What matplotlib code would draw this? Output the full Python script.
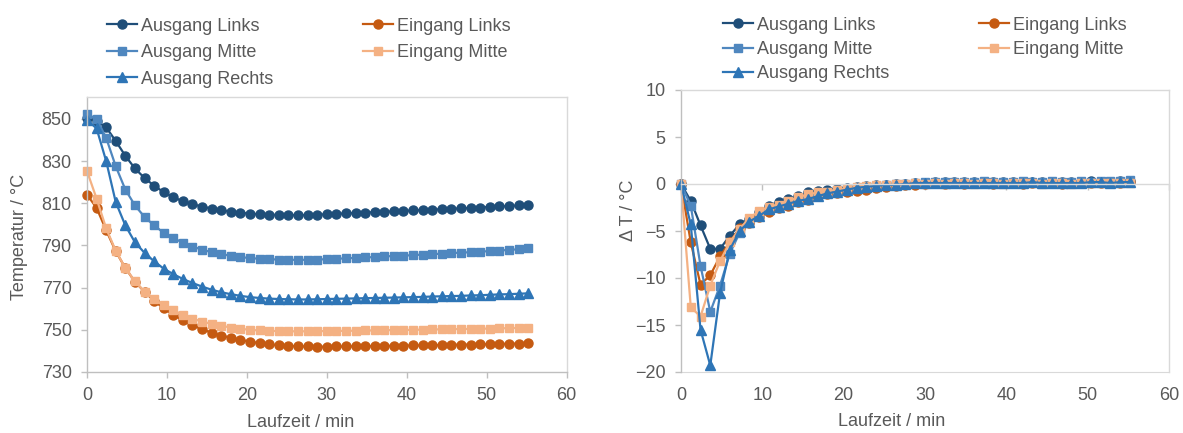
import matplotlib
matplotlib.use("Agg")
import matplotlib.pyplot as plt

plt.rcParams['font.family'] = ['Liberation Sans', 'DejaVu Sans']
plt.rcParams['font.size'] = 13
plt.rcParams['text.color'] = '#595959'
plt.rcParams['axes.labelcolor'] = '#595959'
plt.rcParams['xtick.color'] = '#bfbfbf'
plt.rcParams['ytick.color'] = '#bfbfbf'
plt.rcParams['xtick.labelcolor'] = '#595959'
plt.rcParams['ytick.labelcolor'] = '#595959'

# Laufzeit in min
laufzeit = [0.0, 1.2, 2.4, 3.6, 4.8, 6.0, 7.2, 8.4, 9.6, 10.8,
            12.0, 13.2, 14.4, 15.6, 16.8, 18.0, 19.2, 20.4, 21.6, 22.8,
            24.0, 25.2, 26.4, 27.6, 28.8, 30.0, 31.2, 32.4, 33.6, 34.8,
            36.0, 37.2, 38.4, 39.6, 40.8, 42.0, 43.2, 44.4, 45.6, 46.8,
            48.0, 49.2, 50.4, 51.6, 52.8, 54.0, 55.2]

# Temperaturen in °C
ausgang_links = [850.5, 849.0, 846.0, 839.5, 832.5, 826.5, 822.0, 818.3, 815.3, 812.8,
                 811.0, 809.6, 808.4, 807.5, 806.7, 806.0, 805.5, 805.1, 804.8, 804.6,
                 804.5, 804.4, 804.4, 804.4, 804.6, 804.8, 805.0, 805.2, 805.4, 805.6,
                 805.8, 806.0, 806.2, 806.4, 806.6, 806.8, 807.0, 807.2, 807.4, 807.6,
                 807.8, 808.0, 808.3, 808.5, 808.7, 809.0, 809.3]
ausgang_mitte = [852.3, 850.0, 841.0, 827.5, 816.5, 809.0, 803.5, 799.5, 796.0, 793.5,
                 791.3, 789.5, 788.0, 786.8, 785.9, 785.1, 784.5, 784.0, 783.7, 783.5,
                 783.3, 783.2, 783.2, 783.2, 783.3, 783.5, 783.7, 783.9, 784.1, 784.3,
                 784.5, 784.8, 785.0, 785.2, 785.4, 785.7, 785.9, 786.1, 786.4, 786.6,
                 786.8, 787.1, 787.3, 787.6, 787.9, 788.2, 788.6]
ausgang_rechts = [849.5, 845.5, 830.0, 810.5, 799.5, 791.5, 786.5, 782.5, 779.0, 776.4,
                  774.1, 772.2, 770.5, 769.0, 767.8, 766.9, 766.1, 765.5, 765.1, 764.8,
                  764.6, 764.5, 764.4, 764.4, 764.5, 764.6, 764.7, 764.8, 764.9, 765.0,
                  765.1, 765.2, 765.3, 765.4, 765.5, 765.6, 765.8, 765.9, 766.0, 766.1,
                  766.3, 766.4, 766.6, 766.8, 766.9, 767.1, 767.3]
eingang_links = [814.1, 807.8, 797.2, 787.2, 779.3, 772.8, 768.0, 763.7, 760.2, 757.1,
                 754.5, 752.2, 750.3, 748.6, 747.3, 746.2, 745.2, 744.4, 743.7, 743.1,
                 742.7, 742.4, 742.2, 742.1, 742.0, 742.0, 742.1, 742.1, 742.2, 742.2,
                 742.3, 742.4, 742.4, 742.5, 742.6, 742.6, 742.7, 742.8, 742.9, 743.0,
                 743.0, 743.1, 743.2, 743.3, 743.4, 743.5, 743.7]
eingang_mitte = [825.3, 812.2, 798.1, 787.4, 779.3, 773.0, 768.1, 764.5, 761.6, 759.3,
                 757.1, 755.3, 753.9, 752.8, 751.9, 751.1, 750.5, 750.0, 749.7, 749.5,
                 749.4, 749.3, 749.3, 749.3, 749.4, 749.4, 749.5, 749.5, 749.6, 749.7,
                 749.7, 749.8, 749.9, 749.9, 750.0, 750.1, 750.2, 750.2, 750.3, 750.4,
                 750.4, 750.5, 750.6, 750.7, 750.8, 750.9, 751.0]

# Temperaturaenderung je Messintervall in K
dT_ausgang_links = [0.0, -1.8, -4.4, -6.9, -6.9, -5.5, -4.3, -3.7, -3.0, -2.3,
                    -1.9, -1.6, -1.3, -0.9, -0.7, -0.6, -0.5, -0.4, -0.3, -0.2,
                    -0.1, -0.1, 0.0, 0.0, 0.1, 0.1, 0.2, 0.2, 0.2, 0.2,
                    0.2, 0.2, 0.2, 0.2, 0.2, 0.2, 0.2, 0.2, 0.2, 0.2,
                    0.2, 0.2, 0.3, 0.2, 0.2, 0.3, 0.3]
dT_ausgang_mitte = [0.0, -2.3, -8.7, -13.6, -10.8, -7.4, -5.2, -4.1, -3.4, -2.7,
                    -2.3, -1.9, -1.6, -1.3, -1.0, -0.8, -0.6, -0.5, -0.4, -0.3,
                    -0.2, -0.1, 0.0, 0.0, 0.1, 0.2, 0.2, 0.2, 0.2, 0.2,
                    0.2, 0.3, 0.2, 0.2, 0.2, 0.3, 0.2, 0.2, 0.3, 0.2,
                    0.2, 0.3, 0.2, 0.3, 0.3, 0.3, 0.4]
dT_ausgang_rechts = [0.0, -4.3, -15.5, -19.3, -11.6, -7.0, -5.0, -4.0, -3.4, -2.7,
                     -2.4, -2.1, -1.8, -1.6, -1.3, -1.0, -0.8, -0.6, -0.4, -0.3,
                     -0.2, -0.1, -0.1, 0.0, 0.1, 0.1, 0.1, 0.1, 0.1, 0.1,
                     0.1, 0.1, 0.1, 0.1, 0.1, 0.1, 0.2, 0.1, 0.1, 0.1,
                     0.1, 0.1, 0.2, 0.2, 0.1, 0.2, 0.2]
dT_eingang_links = [0.0, -6.2, -10.7, -9.7, -7.7, -6.2, -4.7, -4.2, -3.5, -3.0,
                    -2.6, -2.3, -1.9, -1.7, -1.3, -1.1, -1.0, -0.8, -0.7, -0.6,
                    -0.4, -0.3, -0.2, -0.1, -0.1, 0.0, 0.1, 0.0, 0.1, 0.0,
                    0.1, 0.1, 0.0, 0.1, 0.1, 0.0, 0.1, 0.1, 0.1, 0.0,
                    0.1, 0.1, 0.1, 0.1, 0.1, 0.1, 0.2]
dT_eingang_mitte = [0.0, -13.1, -14.1, -10.8, -8.2, -6.2, -4.8, -3.6, -2.9, -2.4,
                    -2.2, -1.8, -1.4, -1.1, -0.9, -0.8, -0.6, -0.5, -0.3, -0.2,
                    -0.1, -0.1, 0.0, 0.0, 0.1, 0.0, 0.1, 0.0, 0.1, 0.1,
                    0.0, 0.1, 0.1, 0.0, 0.1, 0.1, 0.1, 0.0, 0.1, 0.1,
                    0.0, 0.1, 0.1, 0.1, 0.1, 0.1, 0.1]

# name, colour, marker, size -- in drawing order
styles = {
    'Ausgang Links':  ('#1f4e79', 'o', 6.5),
    'Eingang Links':  ('#c55a11', 'o', 6.5),
    'Ausgang Mitte':  ('#4f87bf', 's', 6.0),
    'Eingang Mitte':  ('#f4b183', 's', 6.0),
    'Ausgang Rechts': ('#2e75b6', '^', 7.0),
}
temp = {'Ausgang Links': ausgang_links, 'Eingang Links': eingang_links,
        'Ausgang Mitte': ausgang_mitte, 'Eingang Mitte': eingang_mitte,
        'Ausgang Rechts': ausgang_rechts}
delta = {'Ausgang Links': dT_ausgang_links, 'Eingang Links': dT_eingang_links,
         'Ausgang Mitte': dT_ausgang_mitte, 'Eingang Mitte': dT_eingang_mitte,
         'Ausgang Rechts': dT_ausgang_rechts}
legend_order = ['Ausgang Links', 'Ausgang Mitte', 'Ausgang Rechts',
                'Eingang Links', 'Eingang Mitte']

fig = plt.figure(figsize=(11.83, 4.33), dpi=100)
ax1 = fig.add_axes([87 / 1183, 1 - 372 / 433, 479.5 / 1183, 275 / 433])
ax2 = fig.add_axes([681 / 1183, 1 - 372 / 433, 488 / 1183, 282 / 433])


def draw(ax, data):
    lines = {}
    for name, (col, mk, ms) in styles.items():
        ln, = ax.plot(laufzeit, data[name], color=col, marker=mk, markersize=ms,
                      markeredgecolor=col, linewidth=1.6, label=name, clip_on=False)
        lines[name] = ln
    return lines


def frame(ax):
    for side in ['top', 'right']:
        ax.spines[side].set_color('#d9d9d9')
    for side in ['left', 'bottom']:
        ax.spines[side].set_color('#bfbfbf')
    for sp in ax.spines.values():
        sp.set_linewidth(1.0)
    ax.tick_params(direction='out', length=4, width=1.0, pad=7)


def legende(ax, lines, top, spacing):
    ax.legend([lines[n] for n in legend_order], legend_order, ncol=2, numpoints=1,
              loc='upper left', bbox_to_anchor=top, bbox_transform=fig.transFigure,
              frameon=False, borderpad=0, borderaxespad=0, handlelength=1.66,
              handletextpad=0.2, columnspacing=5.0, labelspacing=spacing)


# linkes Diagramm: Temperaturen
lines = draw(ax1, temp)
frame(ax1)
ax1.set_xlim(0, 60)
ax1.set_ylim(730, 860.4)
ax1.set_xticks(range(0, 61, 10))
ax1.set_yticks(range(730, 851, 20))
ax1.set_xlabel('Laufzeit / min')
ax1.xaxis.set_label_coords(0.446, -0.182)
ax1.xaxis.label.set_va('center')
ax1.set_ylabel('Temperatur / °C')
ax1.yaxis.set_label_coords(-0.14, 0.492)
ax1.yaxis.label.set_va('center')
legende(ax1, lines, (107 / 1183, 1 - 17.6 / 433), 0.53)

# rechtes Diagramm: Temperaturaenderung
lines = draw(ax2, delta)
frame(ax2)
ax2.set_xlim(0, 60)
ax2.set_ylim(-20, 10)
ax2.set_xticks(range(0, 61, 10))
ax2.set_yticks(range(-20, 11, 5))
# Rubrikenachse liegt bei 0, Beschriftung unten
ax2.spines['bottom'].set_position(('data', 0))
ax2.spines['bottom'].set_color('#d9d9d9')
ax2.tick_params(axis='x', labelbottom=False)
sec = ax2.secondary_xaxis('bottom')
sec.set_xticks(range(0, 61, 10))
sec.tick_params(length=0, pad=11, labelcolor='#595959')
sec.spines['bottom'].set_color('#d9d9d9')
ax2.set_xlabel('Laufzeit / min')
ax2.xaxis.set_label_coords(0.432, -0.177)
ax2.xaxis.label.set_va('center')
ax2.set_ylabel('Δ T / °C')
ax2.yaxis.set_label_coords(-0.1086, 0.574)
ax2.yaxis.label.set_va('center')
legende(ax2, lines, (723 / 1183, 1 - 16.6 / 433), 0.41)

fig.savefig('out.png', dpi=100)
